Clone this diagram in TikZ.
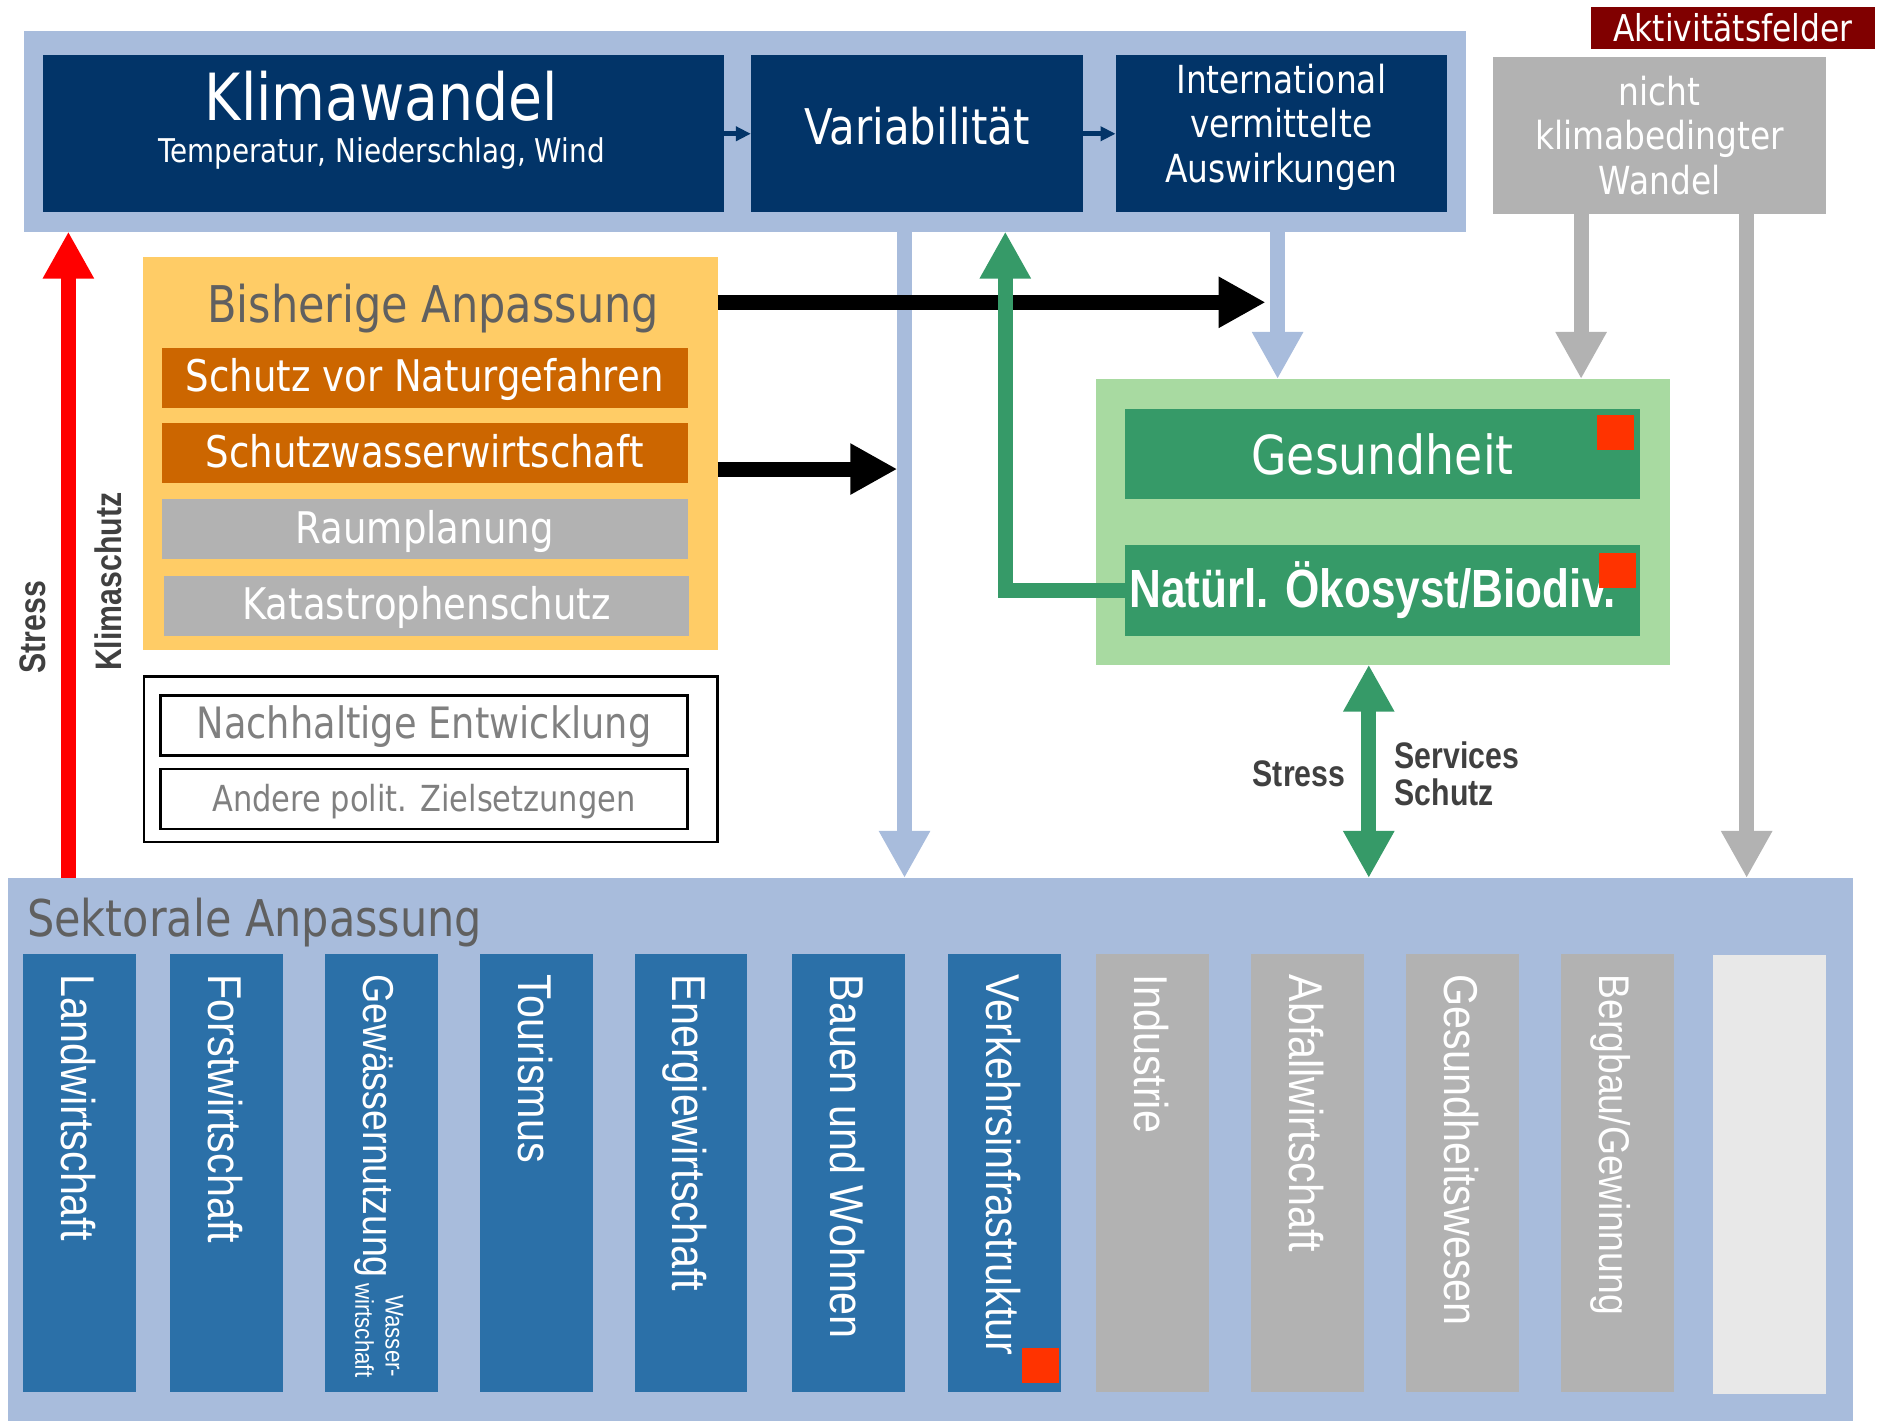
\documentclass[tikz,border=0pt]{standalone}
\usepackage{fontspec}
\setmainfont{Liberation Sans}
\newfontfamily\tahomalike[FakeStretch=0.85]{DejaVu Sans}
\newfontfamily\narrowsans[FakeStretch=0.82]{Liberation Sans}
\newfontfamily\sectorfont[FakeStretch=0.87]{Liberation Sans}
\usetikzlibrary{calc}
\usetikzlibrary{arrows.meta}

\definecolor{frameblue}{RGB}{168,188,220}
\definecolor{navy}{RGB}{2,52,104}
\definecolor{boxgray}{RGB}{178,178,178}
\definecolor{darkred}{RGB}{128,0,0}
\definecolor{sand}{RGB}{255,204,102}
\definecolor{rust}{RGB}{204,102,0}
\definecolor{leaf}{RGB}{54,154,104}
\definecolor{paleleaf}{RGB}{168,218,161}
\definecolor{signal}{RGB}{255,51,0}
\definecolor{sector}{RGB}{43,112,168}
\definecolor{emptygray}{RGB}{232,232,232}
\definecolor{titlegray}{RGB}{96,96,96}
\definecolor{softgray}{RGB}{128,128,128}
\definecolor{labelgray}{RGB}{64,64,64}

\tikzset{
  flat/.style={inner sep=0pt, outer sep=0pt},
  navybox/.style={flat, fill=navy, text=white, minimum height=1.572cm, align=center},
  titletext/.style={inner sep=0pt, text=titlegray, font=\tahomalike\fontsize{14.4}{16}\selectfont},
  rustbox/.style={flat, fill=rust, text=white, minimum width=5.256cm, minimum height=0.6cm, text height=0.8em, text depth=0pt, font=\tahomalike\fontsize{12.4}{14}\selectfont},
  greybox/.style={rustbox, fill=boxgray},
  goalbox/.style={flat, draw=black, line width=0.8pt, fill=white, text=softgray, minimum width=5.268cm, minimum height=0.6cm, text height=0.72em, text depth=0pt, font=\tahomalike\fontsize{12.3}{14}\selectfont},
  leafbox/.style={flat, fill=leaf, text=white, minimum width=5.148cm},
  marker/.style={flat, fill=signal, minimum width=0.37cm, minimum height=0.35cm},
  column/.style={flat, fill=sector, minimum width=1.128cm, minimum height=4.38cm},
  coltext/.style={inner sep=0pt, rotate=-90, anchor=base west, text=white, font=\sectorfont\fontsize{13.5}{14}\selectfont},
  sidelabel/.style={inner sep=0pt, text=labelgray, font=\narrowsans\bfseries\fontsize{10.5}{10.6}\selectfont},
  bigarrow/.style={line width=0.15cm, -{Triangle[length=0.47cm,width=0.48cm]}},
  bothtips/.style={line width=0.15cm, {Triangle[length=0.47cm,width=0.48cm]}-{Triangle[length=0.47cm,width=0.48cm]}},
  smallarrow/.style={navy, line width=1.3pt, -{Triangle[length=0.15cm,width=0.14cm]}}
}

\begin{document}
\begin{tikzpicture}[x=0.012cm, y=-0.012cm]
\useasboundingbox (0,0) rectangle (1568,1184);

% top row
\node[flat, fill=frameblue, minimum width=14.424cm, minimum height=2.004cm] (top) at (621,109.5) {};
\node[navybox, minimum width=6.804cm] (klima) at (319.5,111.5) {};
\node[inner sep=0pt, text=white, font=\tahomalike\fontsize{18.5}{20}\selectfont] (klimatitle) at (318,80) {Klimawandel};
\node[inner sep=0pt, text=white, font=\tahomalike\fontsize{9.3}{11}\selectfont] (klimasub) at (318,128) {Temperatur, Niederschlag, Wind};
\node[navybox, minimum width=3.324cm, text height=0.6em, text depth=0pt, font=\tahomalike\fontsize{14}{16}\selectfont] (vari) at (764.5,111.5) {Variabilität};
\node[navybox, minimum width=3.312cm, text depth=6pt, font=\tahomalike\fontsize{11}{12.6}\selectfont] (intl) at (1068,111.5) {International\\vermittelte\\Auswirkungen};
\draw[smallarrow] (klima.east) -- (vari.west);
\draw[smallarrow] (vari.east) -- (intl.west);

\node[flat, fill=darkred, text=white, minimum width=2.844cm, minimum height=0.42cm, font=\tahomalike\fontsize{10.5}{12}\selectfont] (akt) at (1444.5,23.5) {Aktivitätsfelder};
\node[flat, fill=boxgray, text=white, minimum width=3.324cm, minimum height=1.572cm, align=center, font=\tahomalike\fontsize{11}{12.6}\selectfont] (nicht) at (1383.5,113) {nicht\\klimabedingter\\Wandel};

% bisherige Anpassung
\node[flat, fill=sand, minimum width=5.748cm, minimum height=3.936cm] (bisher) at (358.5,378) {};
\node[titletext] (bishertitle) at (361,257) {Bisherige Anpassung};
\node[rustbox] (natgef) at (354,315) {Schutz vor Naturgefahren};
\node[rustbox] (schutzw) at (354,378) {Schutzwasserwirtschaft};
\node[greybox] (raum) at (354,441) {Raumplanung};
\node[greybox] (kata) at (355.5,505) {Katastrophenschutz};

\node[flat, draw=black, line width=0.7pt, minimum width=5.736cm, minimum height=1.656cm] (ziele) at (359,633) {};
\node[goalbox] (nachh) at (353.5,605) {Nachhaltige Entwicklung};
\node[goalbox, font=\tahomalike\fontsize{10.2}{12}\selectfont] (andere) at (353.5,666) {Andere polit. Zielsetzungen};

% Gesundheit und Natur
\node[flat, fill=paleleaf, minimum width=5.736cm, minimum height=2.856cm] (umwelt) at (1153,435) {};
\node[leafbox, minimum height=0.9cm, font=\tahomalike\fontsize{15.3}{17}\selectfont] (gesund) at (1152.5,378.5) {Gesundheit};
\node[leafbox, minimum height=0.912cm, font=\narrowsans\bfseries\fontsize{15.3}{17}\selectfont] (natur) at (1152.5,492) {Natürl. Ökosyst/Biodiv.\hspace*{0.2cm}};
\node[marker] (mark1) at (1347,360.5) {};
\node[marker] (mark2) at (1348.5,475.5) {};

% sektorale Anpassung
\node[flat, fill=frameblue, minimum width=18.444cm, minimum height=5.424cm] (sektor) at (775.5,958) {};
\node[titletext, anchor=west] (sektortitle) at (22,769) {Sektorale Anpassung};

\foreach \x/\name/\fs [count=\i] in {66/Landwirtschaft/13.5, 189/Forstwirtschaft/13.5, 318/Gewässernutzung/12.3, 447/Tourismus/13.5, 576/Energiewirtschaft/13.5, 707/Bauen und Wohnen/13.5, 837/Verkehrsinfrastruktur/13.5}
{
\node[column] (s\i) at (\x,977.5) {};
\node[coltext, font=\sectorfont\fontsize{\fs}{14}\selectfont] (t\i) at ($(s\i.north)+(-15,17)$) {\name};
}
\foreach \x/\name/\fs [count=\i from 8] in {961/Industrie/13.5, 1090/Abfallwirtschaft/13.5, 1219/Gesundheitswesen/13.5, 1348/{Bergbau/Gewinnung}/12.2}
{
\node[column, fill=boxgray] (s\i) at (\x,977.5) {};
\node[coltext, font=\sectorfont\fontsize{\fs}{14}\selectfont] (t\i) at ($(s\i.north)+(-15,17)$) {\name};
}
\node[column, fill=emptygray] (s12) at (1475,979) {};
\node[flat, rotate=-90, anchor=east, align=right, text=white, font=\sectorfont\fontsize{7.3}{8.6}\selectfont] (wasser) at ($(s3.south)+(-2,-12)$) {Wasser-\\wirtschaft};
\node[marker] (mark3) at (867,1138) {};

% arrows
\coordinate (redx) at (57,0);
\coordinate (bluex) at (754,0);
\coordinate (greenx) at (838,0);
\coordinate (intx) at (1065,0);
\coordinate (grayx) at (1318,0);
\coordinate (grayy) at (1456,0);
\coordinate (dblx) at (1141,0);
\coordinate (blk1) at (1055,252);
\coordinate (blk2) at (748,391);

\draw[bigarrow, red] (redx |- sektor.north) -- (redx |- top.south);
\draw[bigarrow, frameblue] (bluex |- top.south) -- (bluex |- sektor.north);
\draw[bigarrow, black] (bisher.east |- blk1) -- (blk1);
\draw[bigarrow, black] (bisher.east |- blk2) -- (blk2);
\draw[bigarrow, leaf] (natur.west) -| (greenx |- top.south);
\draw[bigarrow, frameblue] (intx |- top.south) -- (intx |- umwelt.north);
\draw[bigarrow, boxgray] (grayx |- nicht.south) -- (grayx |- umwelt.north);
\draw[bigarrow, boxgray] (grayy |- nicht.south) -- (grayy |- sektor.north);
\draw[bothtips, leaf] (dblx |- umwelt.south) -- (dblx |- sektor.north);

\node[sidelabel, anchor=east] (stressr) at (1122,645) {Stress};
\node[sidelabel, anchor=west, align=left] (services) at (1162,645) {Services\\Schutz};
\node[sidelabel, rotate=90] (stressl) at (27,523) {Stress};
\node[sidelabel, rotate=90] (klimaschutz) at (90,485) {Klimaschutz};

\end{tikzpicture}
\end{document}
